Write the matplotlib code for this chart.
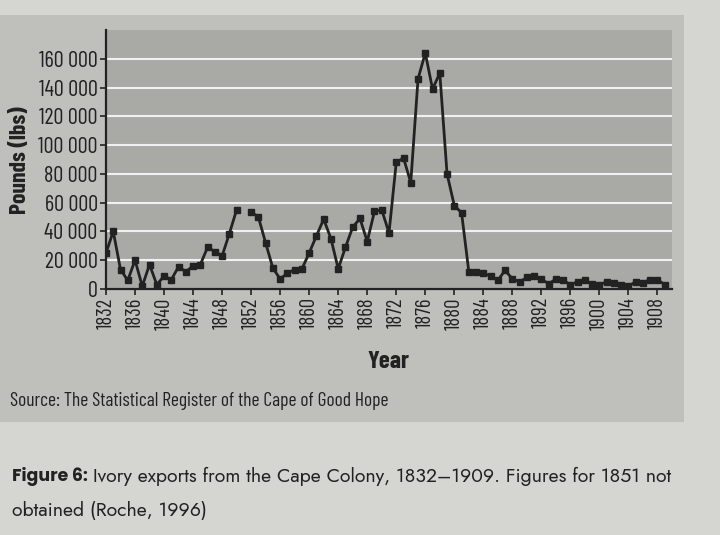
import numpy as np
import matplotlib
matplotlib.use('Agg')
import matplotlib.pyplot as plt
from matplotlib.patches import Rectangle
from matplotlib.ticker import FuncFormatter

# ivory exports, pounds per year (1851 not obtained)
years = list(range(1832, 1910))
pounds = [
    25000, 40000, 13500, 6000, 20000, 2000, 17000, 3000, 9000, 6500,   # 1832-1841
    15500, 12000, 16000, 17000, 29000, 26000, 23000, 38500, 55000, np.nan,  # 1842-1851
    53500, 50000, 32000, 14500, 7000, 11000, 13500, 14000, 25000, 37000,  # 1852-1861
    48500, 35000, 14000, 29000, 43000, 49000, 33000, 54000, 55000, 39000,  # 1862-1871
    88000, 91000, 74000, 146000, 164000, 139000, 150000, 80000, 58000, 53000,  # 1872-1881
    12000, 12000, 11000, 9000, 6000, 13000, 7000, 5000, 8000, 9000,  # 1882-1891
    7000, 3500, 7000, 6000, 3000, 5000, 6000, 3500, 3000, 5000,  # 1892-1901
    4000, 2500, 2000, 5000, 4500, 6500, 6500, 3000,  # 1902-1909
]
year_ticks = list(range(1832, 1909, 4))
y_ticks = list(range(0, 160001, 20000))

# narrow face for the chart text, geometric one for the book caption
CONDENSED = ['Barlow Condensed', 'Roboto Condensed', 'DejaVu Sans']
BOOK = ['Jost', 'Lato', 'DejaVu Sans']
BOOK_BOLD = ['Poppins', 'Lato', 'DejaVu Sans']

PAGE = '#d5d5d1'
PANEL = '#bfbfbb'
PLOT_BG = '#a9a9a6'
INK = '#222222'

W, H = 720, 535
fig = plt.figure(figsize=(W / 100, H / 100), dpi=100, facecolor=PAGE)

# grey panel of the printed figure
fig.patches.append(Rectangle((0, 1 - 422 / H), 684 / W, (422 - 15) / H,
                             transform=fig.transFigure, facecolor=PANEL,
                             edgecolor='none', zorder=-5))

ax = fig.add_axes([106 / W, (H - 289) / H, (672 - 106) / W, (289 - 30) / H])
ax.set_zorder(2)
ax.set_facecolor(PLOT_BG)

ax.plot(years, pounds, color=INK, lw=2, marker='s', markersize=4,
        markerfacecolor=INK, markeredgecolor=INK, zorder=3)

ax.set_xlim(1832, 1910)
ax.set_ylim(0, 180000)
ax.set_xticks(year_ticks)
ax.set_xticklabels([str(y) for y in year_ticks], rotation=90,
                   family=CONDENSED, fontsize=15, color=INK)
ax.set_yticks(y_ticks)
ax.yaxis.set_major_formatter(FuncFormatter(lambda v, p: f'{int(v):,}'.replace(',', ' ')))
for lbl in ax.get_yticklabels():
    lbl.set_family(CONDENSED)
    lbl.set_fontsize(16)
    lbl.set_color(INK)

ax.grid(axis='y', color='white', lw=1.5, alpha=0.85)
ax.set_axisbelow(True)
ax.tick_params(direction='out', length=4, width=1.2, color=INK, pad=2)
for s in ['top', 'right']:
    ax.spines[s].set_visible(False)
for s in ['left', 'bottom']:
    ax.spines[s].set_color(INK)
    ax.spines[s].set_linewidth(1.6)

fig.text(20 / W, 1 - 160 / H, 'Pounds (lbs)', rotation=90, ha='center',
         va='center', family=CONDENSED, fontsize=17, fontweight='bold', color=INK)
fig.text(388 / W, 1 - 362 / H, 'Year', ha='center', va='center',
         family=CONDENSED, fontsize=18, fontweight='bold', color=INK)
fig.text(10 / W, 1 - 401 / H, 'Source: The Statistical Register of the Cape of Good Hope',
         ha='left', va='center', family=CONDENSED, fontsize=14, color=INK)

# caption under the figure
cap = fig.text(12 / W, 1 - 476 / H, 'Figure 6:', ha='left', va='center',
               family=BOOK_BOLD, fontsize=12.5, fontweight='bold', color=INK)
fig.canvas.draw()
cap_end = cap.get_window_extent().x1
fig.text((cap_end + 5) / W, 1 - 476 / H,
         'Ivory exports from the Cape Colony, 1832\u20131909. Figures for 1851 not',
         ha='left', va='center', family=BOOK, fontsize=14, color=INK)
fig.text(12 / W, 1 - 511 / H, 'obtained (Roche, 1996)', ha='left', va='center',
         family=BOOK, fontsize=14, color=INK)

plt.savefig('out.png', dpi=100, facecolor=PAGE)
